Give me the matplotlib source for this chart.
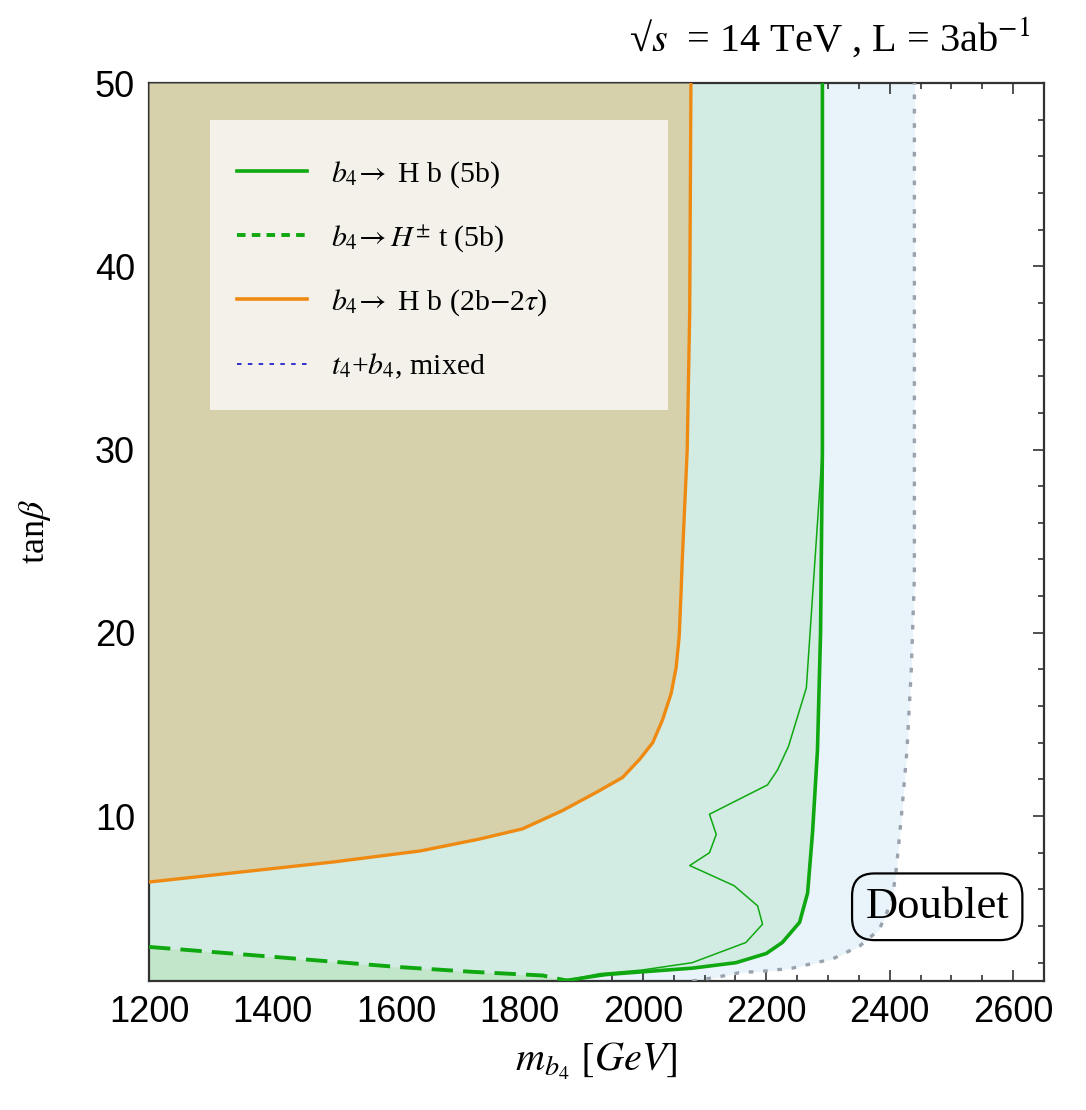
import matplotlib
matplotlib.use("Agg")
import matplotlib.pyplot as plt
from matplotlib.lines import Line2D
from matplotlib.patches import Rectangle

plt.rcParams['mathtext.fontset'] = 'stix'
plt.rcParams['font.family'] = ['Liberation Serif', 'DejaVu Serif']

# ---- data (m_b4 [GeV], tan beta) ----
orange_x = [1200, 1350, 1500, 1640, 1736, 1805, 1870, 1925, 1967, 1995, 2016, 2032, 2046,
            2054, 2059, 2062, 2064, 2072, 2076, 2078]
orange_y = [6.4, 6.95, 7.5, 8.1, 8.75, 9.3, 10.3, 11.3, 12.1, 13.1, 14.0, 15.25, 16.7,
            18.1, 19.8, 22.2, 24.0, 30.0, 37.5, 50.0]

green_x = [1870, 1940, 1999, 2080, 2151, 2200, 2226, 2254, 2267, 2275, 2283, 2288, 2291, 2291]
green_y = [1.0, 1.35, 1.5, 1.7, 2.0, 2.5, 3.1, 4.2, 5.8, 9.1, 13.6, 20.0, 30.0, 50.0]

thin_x = [1870, 1930, 1999, 2080, 2167, 2194, 2186, 2148, 2076, 2108, 2119, 2108, 2202, 2218, 2236, 2265, 2281, 2291]
thin_y = [1.0, 1.4, 1.6, 2.0, 3.1, 4.1, 5.1, 6.2, 7.3, 8.0, 9.0, 10.1, 11.7, 12.5, 13.8, 17.0, 25.0, 30.0]

dash_x = [1200, 1401, 1601, 1724, 1838, 1880]
dash_y = [2.86, 2.32, 1.77, 1.5, 1.3, 1.0]

dot_x = [2080, 2119, 2156, 2200, 2242, 2307, 2351, 2383, 2404, 2411, 2419, 2428, 2435, 2440, 2440]
dot_y = [1.0, 1.2, 1.45, 1.55, 1.7, 2.2, 2.9, 3.8, 5.4, 7.2, 10.0, 13.6, 18.0, 23.0, 50.0]

legend_labels = [r"$b_4\!\rightarrow$ H b (5b)",
                 r"$b_4\!\rightarrow H^{\pm}$ t (5b)",
                 r"$b_4\!\rightarrow$ H b (2b$-$2$\tau$)",
                 r"$t_4$+$b_4$, mixed"]

x_ticks = [1200, 1400, 1600, 1800, 2000, 2200, 2400, 2600]
y_ticks = [10, 20, 30, 40, 50]

# ---- figure ----
fig = plt.figure(figsize=(10.86, 11.10), dpi=100)
ax = fig.add_axes([149/1086, 1-981/1110, (1044-149)/1086, (981-83)/1110])
ax.set_xlim(1200, 2650)
ax.set_ylim(1, 50)

GREEN = '#10a810'
ORANGE = '#ee8a12'
GREY = '#9aa3ad'

ax.fill_betweenx(dot_y, 1200, dot_x, color='#e8f3fa', lw=0, zorder=1)
ax.fill_betweenx(green_y, 1200, green_x, color='#d2ece4', lw=0, zorder=2)
ax.fill_between(dash_x, 1, dash_y, color='#c2e6c9', lw=0, zorder=2.5)
ax.fill_betweenx(orange_y, 1200, orange_x, color='#d6d1aa', lw=0, zorder=3)

ax.plot(dot_x, dot_y, color=GREY, lw=2.4, dashes=(1.4, 2.9), zorder=4)
ax.plot(thin_x, thin_y, color=GREEN, lw=1.1, zorder=5)
ax.plot(green_x, green_y, color=GREEN, lw=2.6, zorder=5)
ax.plot(dash_x, dash_y, color=GREEN, lw=2.8, dashes=(5.5, 2.6), zorder=5)
ax.plot(orange_x, orange_y, color=ORANGE, lw=2.4, zorder=5)

# ticks
ax.set_xticks(x_ticks)
ax.set_xticks(range(1200, 2651, 50), minor=True)
ax.set_yticks(y_ticks)
ax.set_yticks(range(2, 51, 2), minor=True)
ax.tick_params(which='both', direction='in', top=True, right=True, color='#222222', width=1.1)
ax.tick_params(which='major', length=8)
ax.tick_params(which='minor', length=4.3)
ax.tick_params(labelsize=26, pad=10)
for lab in ax.get_xticklabels() + ax.get_yticklabels():
    lab.set_family('Liberation Sans')
for s in ax.spines.values():
    s.set_linewidth(1.6)
    s.set_color('#333333')

# labels
ax.set_xlabel(r"$m_{b_4}\ [GeV]$", fontsize=29, labelpad=8)
ax.set_ylabel(r"tan$\beta$", fontsize=26, labelpad=30)
fig.text(1030/1086, 1-38/1110, "√$s$  = 14 TeV , L = 3ab$^{-1}$", fontsize=29,
         ha='right', va='center')

# legend background box
ax.add_patch(Rectangle(((210-149)/895, 1-(410-83)/898), (668-210)/895, (410-120)/898,
                       transform=ax.transAxes, facecolor='#f4f1eb', edgecolor='none', zorder=6))
handles = [Line2D([], [], color=GREEN, lw=2.6),
           Line2D([], [], color=GREEN, lw=2.8, dashes=(2.2, 1.6)),
           Line2D([], [], color=ORANGE, lw=2.6),
           Line2D([], [], color='#2222cc', lw=1.3, dashes=(2.5, 3.5))]
leg = ax.legend(handles, legend_labels, loc='upper left',
                bbox_to_anchor=((237-149)/895, 1-(159-83)/898),
                frameon=False, fontsize=21.5, borderpad=0, borderaxespad=0,
                handlelength=2.35, handletextpad=0.8, labelspacing=1.12)
leg.set_zorder(7)

ax.text(2477, 5.05, "Doublet", fontsize=32, ha='center', va='center', zorder=8,
        bbox=dict(boxstyle='round,pad=0.3,rounding_size=0.5', fc='none', ec='black', lw=1.6))

fig.savefig('out.png', dpi=100)
